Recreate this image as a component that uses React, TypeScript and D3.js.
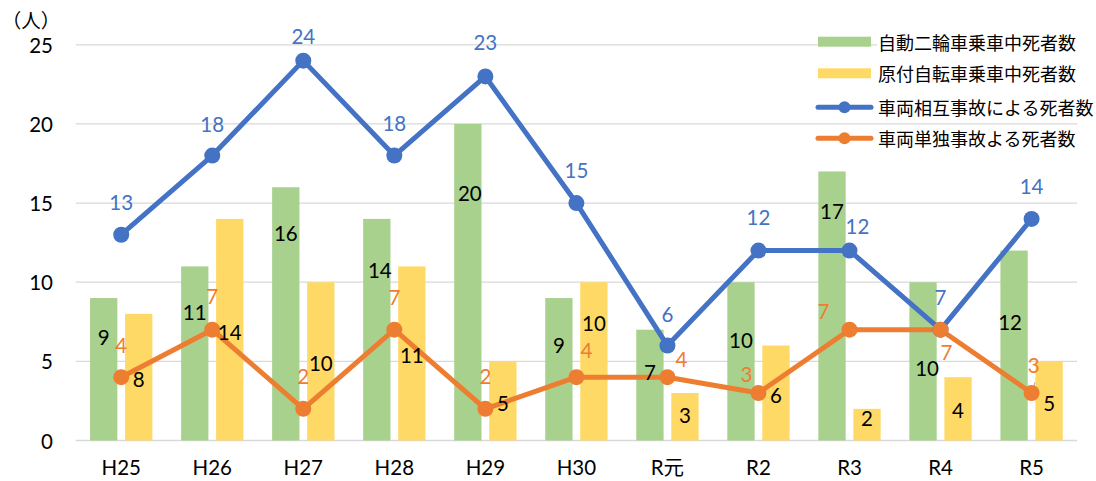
import React, { useEffect, useRef } from "react";
import * as d3 from "d3";

// data
const categories = ["H25", "H26", "H27", "H28", "H29", "H30", "R元", "R2", "R3", "R4", "R5"];
const motorcycleDeaths = [9, 11, 16, 14, 20, 9, 7, 10, 17, 10, 12];
const mopedDeaths = [8, 14, 10, 11, 5, 10, 3, 6, 2, 4, 5];
const collisionDeaths = [13, 18, 24, 18, 23, 15, 6, 12, 12, 7, 14];
const singleVehicleDeaths = [4, 7, 2, 7, 2, 4, 4, 3, 7, 7, 3];
const yTicks = [0, 5, 10, 15, 20, 25];
const seriesNames = [
  "自動二輪車乗車中死者数",
  "原付自転車乗車中死者数",
  "車両相互事故による死者数",
  "車両単独事故よる死者数",
];
const unitLabel = "（人）";

// where the labels were placed by hand in the original (value units / px offsets)
const motorcycleLabelAt = [6.54, 8.12, 13.09, 10.77, 15.65, 6.03, 4.33, 6.35, 14.52, 4.56, 7.5];
const motorcycleLabelDx = [0, 0, 0, 3, 2, 0, 0, 0, 0, 4, -4];
const mopedLabelAt = [3.87, 6.87, 4.91, 5.4, 2.39, 7.44, 1.61, 2.87, 1.4, 1.93, 2.35];
const collisionLabelOffset = [
  [0, -33], [0, -32], [0, -25], [0, -33], [0, -34], [0, -33],
  [0, -32], [0, -34], [8, -25], [0, -33], [0, -33],
];
const singleLabelOffset = [
  [0, -32], [0, -34], [0, -33], [0, -33], [0, -33], [10, -27],
  [14, -18], [-12, -19], [-26, -19], [6, 22], [2, -28],
];

const GREEN = "#A9D18E";
const YELLOW = "#FFD966";
const BLUE = "#4472C4";
const ORANGE = "#ED7D31";
const GRID = "#D9D9D9";
const NUM_FONT = "Lato, 'Noto Sans CJK JP', sans-serif";
const JP_FONT = "'Noto Sans CJK JP', sans-serif";

const ChartSvg = ({ width = 1096, height = 481 }) => {
  const svgRef = useRef<SVGSVGElement | null>(null);

  useEffect(() => {
    const svg = d3.select(svgRef.current).attr("width", width).attr("height", height);
    svg.selectAll("*").remove();

    const left = 75.7;
    const right = 1077.1;

    const x = d3.scaleBand<string>().domain(categories).range([left, right]).padding(0);
    const xSub = d3
      .scaleBand<string>()
      .domain(["moto", "moped"])
      .range([0, x.bandwidth()])
      .paddingInner(0.22)
      .paddingOuter(0.41);
    const y = d3.scaleLinear().domain([0, 25]).range([440.5, 44.8]);
    const cx = (c: string) => (x(c) as number) + x.bandwidth() / 2;

    // gridlines
    svg
      .append("g")
      .selectAll("line")
      .data(yTicks)
      .enter()
      .append("line")
      .attr("x1", left)
      .attr("x2", right)
      .attr("y1", (d) => y(d))
      .attr("y2", (d) => y(d))
      .attr("stroke", GRID)
      .attr("stroke-width", (d) => (d === 0 ? 1.6 : 1.3));

    // y tick labels
    svg
      .append("g")
      .selectAll("text")
      .data(yTicks)
      .enter()
      .append("text")
      .attr("x", 53)
      .attr("y", (d) => y(d))
      .attr("text-anchor", "end")
      .attr("dominant-baseline", "central")
      .style("font-family", NUM_FONT)
      .style("font-size", "20.5px")
      .style("fill", "#000")
      .text((d) => d);

    svg
      .append("text")
      .attr("x", 31)
      .attr("y", 19)
      .attr("text-anchor", "middle")
      .attr("dominant-baseline", "central")
      .style("font-family", JP_FONT)
      .style("font-size", "19.5px")
      .style("fill", "#000")
      .text(unitLabel);

    // x labels
    svg
      .append("g")
      .selectAll("text")
      .data(categories)
      .enter()
      .append("text")
      .attr("x", (d) => cx(d))
      .attr("y", 467)
      .attr("text-anchor", "middle")
      .attr("dominant-baseline", "central")
      .style("font-family", NUM_FONT)
      .style("font-size", "20.5px")
      .style("fill", "#000")
      .text((d) => d);

    // bars
    const barSeries = [
      { key: "moto", values: motorcycleDeaths, color: GREEN },
      { key: "moped", values: mopedDeaths, color: YELLOW },
    ];
    barSeries.forEach((s) => {
      svg
        .append("g")
        .selectAll("rect")
        .data(s.values)
        .enter()
        .append("rect")
        .attr("x", (d, i) => (x(categories[i]) as number) + (xSub(s.key) as number))
        .attr("y", (d) => y(d))
        .attr("width", xSub.bandwidth())
        .attr("height", (d) => y(0) - y(d))
        .attr("fill", s.color);
    });

    // lines + markers
    const lineSeries = [
      { values: collisionDeaths, color: BLUE },
      { values: singleVehicleDeaths, color: ORANGE },
    ];
    lineSeries.forEach((s) => {
      const line = d3
        .line<number>()
        .x((d, i) => cx(categories[i]))
        .y((d) => y(d));
      svg
        .append("path")
        .datum(s.values)
        .attr("d", line)
        .attr("fill", "none")
        .attr("stroke", s.color)
        .attr("stroke-width", 5)
        .attr("stroke-linejoin", "round");
    });

    // small leader line for R5 orange label
    const r5 = categories.length - 1;
    svg
      .append("line")
      .attr("x1", cx(categories[r5]) + 3.5)
      .attr("y1", y(singleVehicleDeaths[r5]) - 11)
      .attr("x2", cx(categories[r5]) + 0.5)
      .attr("y2", y(singleVehicleDeaths[r5]) - 1)
      .attr("stroke", "#A6A6A6")
      .attr("stroke-width", 1);

    lineSeries.forEach((s) => {
      svg
        .append("g")
        .selectAll("circle")
        .data(s.values)
        .enter()
        .append("circle")
        .attr("cx", (d, i) => cx(categories[i]))
        .attr("cy", (d) => y(d))
        .attr("r", 8)
        .attr("fill", s.color);
    });

    // bar labels
    const addBarLabels = (values: number[], key: string, at: number[], dx: number[]) => {
      svg
        .append("g")
        .selectAll("text")
        .data(values)
        .enter()
        .append("text")
        .attr(
          "x",
          (d, i) =>
            (x(categories[i]) as number) + (xSub(key) as number) + xSub.bandwidth() / 2 + (dx[i] || 0)
        )
        .attr("y", (d, i) => y(at[i]))
        .attr("text-anchor", "middle")
        .attr("dominant-baseline", "central")
        .style("font-family", NUM_FONT)
        .style("font-size", "20.5px")
        .style("fill", "#000")
        .text((d) => d);
    };
    addBarLabels(motorcycleDeaths, "moto", motorcycleLabelAt, motorcycleLabelDx);
    addBarLabels(mopedDeaths, "moped", mopedLabelAt, []);

    // line labels
    const addLineLabels = (values: number[], offsets: number[][], color: string) => {
      svg
        .append("g")
        .selectAll("text")
        .data(values)
        .enter()
        .append("text")
        .attr("x", (d, i) => cx(categories[i]) + offsets[i][0])
        .attr("y", (d, i) => y(d) + offsets[i][1])
        .attr("text-anchor", "middle")
        .attr("dominant-baseline", "central")
        .style("font-family", NUM_FONT)
        .style("font-size", "20.5px")
        .style("fill", color)
        .text((d) => d);
    };
    addLineLabels(collisionDeaths, collisionLabelOffset, BLUE);
    addLineLabels(singleVehicleDeaths, singleLabelOffset, ORANGE);

    // legend
    const legendRows = [41.7, 73.3, 107.3, 138.3];
    const legendColors = [GREEN, YELLOW, BLUE, ORANGE];
    const legend = svg.append("g");
    seriesNames.forEach((name, i) => {
      const ly = legendRows[i];
      legend
        .append("rect")
        .attr("x", 877)
        .attr("y", ly - 11)
        .attr("width", 218)
        .attr("height", 22)
        .attr("fill", "#fff");
      if (i < 2) {
        legend
          .append("rect")
          .attr("x", 818)
          .attr("y", ly - 5)
          .attr("width", 53)
          .attr("height", 10)
          .attr("fill", legendColors[i]);
      } else {
        legend
          .append("line")
          .attr("x1", 818)
          .attr("x2", 871)
          .attr("y1", ly)
          .attr("y2", ly)
          .attr("stroke", legendColors[i])
          .attr("stroke-width", 5)
          .attr("stroke-linecap", "round");
        legend
          .append("circle")
          .attr("cx", 844.5)
          .attr("cy", ly)
          .attr("r", 6)
          .attr("fill", legendColors[i]);
      }
      legend
        .append("text")
        .attr("x", 878)
        .attr("y", ly)
        .attr("dominant-baseline", "central")
        .style("font-family", JP_FONT)
        .style("font-size", "18px")
        .style("fill", "#000")
        .text(name);
    });
  }, [width, height]);

  return (
    <svg
      ref={svgRef}
      style={{ position: "absolute", left: 0, top: 0, background: "#fff", display: "block" }}
    ></svg>
  );
};

export default function App() {
  return <ChartSvg width={1096} height={481} />;
}
